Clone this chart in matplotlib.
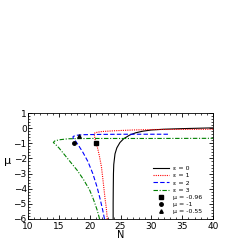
import matplotlib
matplotlib.use("Agg")
import matplotlib.pyplot as plt
from matplotlib.ticker import MultipleLocator

# eps = 0 (single branch)
N0 = [23.8, 23.8, 23.82, 23.85, 23.9, 24.1, 24.4, 24.9, 25.5, 26.5, 27.5, 28.6, 30, 32, 35, 40]
mu0 = [-6, -5, -4, -3, -2.4, -1.7, -1.3, -0.95, -0.7, -0.45, -0.3, -0.2, -0.12, -0.07, -0.03, 0.02]

# eps = 1
N1 = [22.85, 22.7, 22.5, 22.2, 21.9, 21.6, 21.3, 21.05, 20.85, 20.75, 20.8, 21.2, 22, 24, 27, 30, 35, 40]
mu1 = [-6, -5.3, -4.7, -3.6, -2.55, -1.9, -1.35, -1.0, -0.7, -0.45, -0.32, -0.27, -0.22, -0.17, -0.12, -0.09, -0.08, -0.07]

# eps = 2
N2 = [22.4, 22.1, 21.7, 21.2, 20.5, 19.7, 18.9, 18.2, 17.7, 17.3, 17.3, 17.8, 19, 22, 26, 30, 32.7]
mu2 = [-6, -5.4, -4.7, -3.9, -3.0, -2.2, -1.6, -1.15, -0.85, -0.65, -0.55, -0.47, -0.43, -0.41, -0.4, -0.4, -0.4]

# eps = 3
N3 = [21.6, 21.2, 20.6, 20, 19, 18, 17, 16, 15, 14.4, 14.1, 14.3, 15, 16.5, 20, 30, 40]
mu3 = [-6, -5.4, -4.7, -4.1, -3.4, -2.8, -2.3, -1.8, -1.3, -1.05, -0.95, -0.85, -0.77, -0.7, -0.68, -0.68, -0.67]

sq_N, sq_mu = 21.0, -0.96
ci_N, ci_mu = 17.5, -1.0
tr_N, tr_mu = 18.2, -0.5

fig = plt.figure(figsize=(2.4, 2.4), dpi=100)
ax = fig.add_axes([0.117, 0.0875, 0.7705, 0.4415])

ax.plot(N0, mu0, color="black", lw=0.8, ls="-", label="ε = 0")
ax.plot(N1, mu1, color="red", lw=0.8, ls=(0, (1, 1)), label="ε = 1")
ax.plot(N2, mu2, color="blue", lw=0.8, ls=(0, (4, 2)), label="ε = 2")
ax.plot(N3, mu3, color="green", lw=0.8, ls=(0, (4, 1.5, 1, 1.5)), label="ε = 3")
ax.plot([sq_N], [sq_mu], "s", color="black", ms=2.5, ls="none", label="μ = -0.96")
ax.plot([ci_N], [ci_mu], "o", color="black", ms=2.5, ls="none", label="μ = -1")
ax.plot([tr_N], [tr_mu], "^", color="black", ms=2.5, ls="none", label="μ = -0.55")

ax.set_xlim(10, 40)
ax.set_ylim(-6, 1)
ax.xaxis.set_major_locator(MultipleLocator(5))
ax.xaxis.set_minor_locator(MultipleLocator(1))
ax.yaxis.set_major_locator(MultipleLocator(1))
ax.yaxis.set_minor_locator(MultipleLocator(0.2))
ax.tick_params(which="both", direction="in", top=True, right=True, labelsize=6.5, pad=1)
ax.tick_params(axis="x", pad=2.5)
ax.tick_params(which="major", length=3, width=0.6)
ax.tick_params(which="minor", length=1.5, width=0.5)
for s in ax.spines.values():
    s.set_linewidth(0.6)

ax.set_xlabel("N", fontsize=7, labelpad=-1)
ax.set_ylabel("μ", fontsize=8, rotation=0, labelpad=4)

ax.legend(loc="upper left", bbox_to_anchor=(0.66, 0.53), frameon=False, fontsize=4.5,
          handlelength=2.5, labelspacing=0.28, borderpad=0, handletextpad=0.6)

fig.savefig("out.png", dpi=100)
